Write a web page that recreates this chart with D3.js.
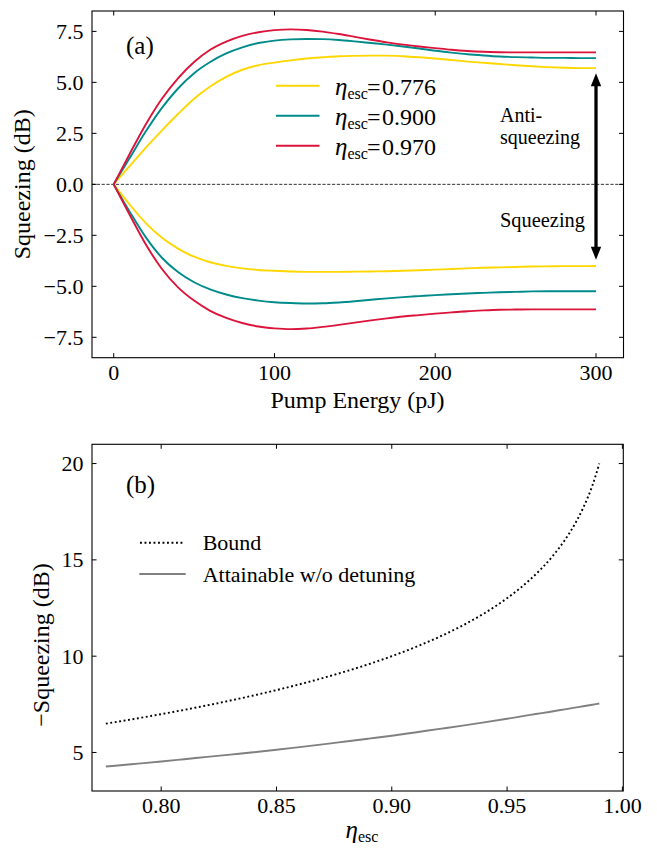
<!DOCTYPE html>
<html><head><meta charset="utf-8">
<script src="https://cdn.jsdelivr.net/npm/d3@7"></script>
<style>
body{margin:0;background:#fff;}
svg{display:block;}
text{font-family:"Liberation Serif","Times New Roman",serif;fill:#000;}
</style>
</head><body>
<svg id="chart" width="657" height="848"></svg>
<script>
// ---------- Panel (a) data ----------
const pumpEnergy = [0,10,20,30,40,50,60,70,80,90,100,110,120,130,140,150,160,170,180,190,200,210,220,230,240,250,260,270,280,290,300];
const antiSqz776 = [0,0.9,1.8,2.65,3.45,4.2,4.8,5.27,5.62,5.84,5.97,6.08,6.17,6.23,6.28,6.3,6.31,6.31,6.28,6.23,6.17,6.1,6.02,5.96,5.9,5.84,5.79,5.75,5.72,5.7,5.7];
const antiSqz900 = [0,1.3,2.6,3.75,4.7,5.45,6.0,6.42,6.72,6.93,7.05,7.11,7.13,7.12,7.08,7.01,6.93,6.85,6.76,6.66,6.55,6.46,6.38,6.32,6.27,6.24,6.22,6.2,6.2,6.19,6.19];
const antiSqz970 = [0,1.5,2.95,4.2,5.2,6.0,6.6,7.0,7.28,7.46,7.56,7.6,7.57,7.49,7.37,7.23,7.09,6.96,6.85,6.76,6.68,6.6,6.54,6.5,6.48,6.47,6.47,6.47,6.47,6.47,6.47];
const sqz776 = [0,-1.0,-1.9,-2.62,-3.15,-3.55,-3.82,-4.0,-4.12,-4.2,-4.24,-4.27,-4.29,-4.29,-4.29,-4.28,-4.27,-4.26,-4.24,-4.21,-4.18,-4.15,-4.12,-4.09,-4.07,-4.05,-4.03,-4.02,-4.01,-4.01,-4.0];
const sqz900 = [0,-1.35,-2.6,-3.6,-4.3,-4.8,-5.15,-5.4,-5.58,-5.7,-5.78,-5.82,-5.84,-5.83,-5.79,-5.73,-5.66,-5.59,-5.53,-5.48,-5.43,-5.39,-5.35,-5.32,-5.29,-5.27,-5.25,-5.24,-5.24,-5.24,-5.24];
const sqz970 = [0,-1.5,-2.95,-4.15,-5.05,-5.7,-6.2,-6.55,-6.8,-6.97,-7.06,-7.1,-7.07,-6.99,-6.89,-6.78,-6.67,-6.57,-6.48,-6.41,-6.34,-6.28,-6.22,-6.18,-6.15,-6.14,-6.13,-6.13,-6.13,-6.13,-6.13];
const seriesNamesA = ["0.776","0.900","0.970"];
const seriesColorsA = ["#FFD700","#008B8B","#DC143C"];
const xTicksA = [0,100,200,300];
const yTicksA = [-7.5,-5,-2.5,0,2.5,5,7.5];
const arrowA = [[300,5.45],[300,-3.7]];

// ---------- Panel (b) data ----------
const etaEsc = [0.776,0.78,0.79,0.80,0.81,0.82,0.83,0.84,0.85,0.86,0.87,0.88,0.89,0.90,0.91,0.92,0.93,0.94,0.95,0.955,0.96,0.965,0.97,0.975,0.98,0.983,0.985,0.987,0.99];
const boundDb = [6.498,6.576,6.778,6.990,7.212,7.447,7.696,7.959,8.239,8.539,8.861,9.208,9.586,10.0,10.458,10.969,11.549,12.218,13.010,13.468,13.979,14.559,15.229,16.021,16.990,17.696,18.239,18.861,20.0];
const attainDb = [4.27,4.31,4.42,4.53,4.65,4.77,4.89,5.01,5.14,5.28,5.42,5.57,5.72,5.87,6.04,6.21,6.38,6.56,6.75,6.85,6.95,7.04,7.14,7.24,7.34,7.40,7.44,7.48,7.54];
const xTicksB = [0.80,0.85,0.90,0.95,1.00];
const yTicksB = [5,10,15,20];

const svg = d3.select("#chart");
const TICK = 4.5;

function frame(g, x, y, xt, yt, xfmt, yfmt) {
  const [x0,x1] = x.range(), [y0,y1] = y.range();
  xt.forEach(v => {
    g.append("line").attr("x1",x(v)).attr("x2",x(v)).attr("y1",y0).attr("y2",y0-TICK).attr("stroke","#000").attr("stroke-width",1);
    g.append("line").attr("x1",x(v)).attr("x2",x(v)).attr("y1",y1).attr("y2",y1+TICK).attr("stroke","#000").attr("stroke-width",1);
    g.append("text").attr("x",x(v)).attr("y",y0+22.3).attr("text-anchor","middle").attr("font-size","22px").text(xfmt(v));
  });
  yt.forEach(v => {
    g.append("line").attr("x1",x0).attr("x2",x0+TICK).attr("y1",y(v)).attr("y2",y(v)).attr("stroke","#000").attr("stroke-width",1);
    g.append("line").attr("x1",x1).attr("x2",x1-TICK).attr("y1",y(v)).attr("y2",y(v)).attr("stroke","#000").attr("stroke-width",1);
    g.append("text").attr("x",x0-8.5).attr("y",y(v)).attr("dy","0.34em").attr("text-anchor","end").attr("font-size","22px").text(yfmt(v));
  });
  g.append("rect").attr("x",x0).attr("y",y1).attr("width",x1-x0).attr("height",y0-y1)
    .attr("fill","none").attr("stroke","#000").attr("stroke-width",1.1);
}

// ================= Panel (a) =================
const xA = d3.scaleLinear().domain([-13.5,317.1]).range([92,623.5]);
const yA = d3.scaleLinear().domain([-8.5,8.5]).range([357.7,11]);
const gA = svg.append("g");

gA.append("line").attr("x1",xA.range()[0]).attr("x2",xA.range()[1]).attr("y1",yA(0)).attr("y2",yA(0))
  .attr("stroke","#000").attr("stroke-width",0.8).attr("stroke-dasharray","3.2,1.6");

const lineA = d3.line().x((d,i)=>xA(pumpEnergy[i])).y(d=>yA(d)).curve(d3.curveMonotoneX);
const upper = [antiSqz776, antiSqz900, antiSqz970];
const lower = [sqz776, sqz900, sqz970];
[0,1,2].forEach(k => {
  gA.append("path").attr("d",lineA(upper[k])).attr("fill","none").attr("stroke",seriesColorsA[k]).attr("stroke-width",1.9);
  gA.append("path").attr("d",lineA(lower[k])).attr("fill","none").attr("stroke",seriesColorsA[k]).attr("stroke-width",1.9);
});

frame(gA, xA, yA, xTicksA, yTicksA, d3.format(".0f"), d3.format(".1f"));

// legend (a)
seriesNamesA.forEach((nm,k) => {
  const yy = 85.7 + k*30;
  gA.append("line").attr("x1",276).attr("x2",319.5).attr("y1",yy).attr("y2",yy).attr("stroke",seriesColorsA[k]).attr("stroke-width",1.9);
  const t = gA.append("text").attr("x",335).attr("y",yy+9.5).attr("font-size","24px");
  t.append("tspan").attr("font-style","italic").attr("font-size","25px").text("η");
  t.append("tspan").attr("font-size","16px").attr("dy",4).text("esc");
  t.append("tspan").attr("dy",-4).attr("x",367).text("=");
  t.append("tspan").attr("x",382).text(nm);
});

// arrow
const ax = xA(arrowA[0][0]), ayTop = yA(arrowA[0][1]), ayBot = yA(arrowA[1][1]);
const HL = 13, HW = 5.2;
gA.append("line").attr("x1",ax).attr("x2",ax).attr("y1",ayTop+HL-1).attr("y2",ayBot-HL+1).attr("stroke","#000").attr("stroke-width",3.3);
gA.append("path").attr("d",`M${ax},${ayTop} L${ax-HW},${ayTop+HL} L${ax+HW},${ayTop+HL} Z`).attr("fill","#000");
gA.append("path").attr("d",`M${ax},${ayBot} L${ax-HW},${ayBot-HL} L${ax+HW},${ayBot-HL} Z`).attr("fill","#000");

gA.append("text").attr("x",500).attr("y",121.5).attr("font-size","20px").text("Anti-");
gA.append("text").attr("x",500).attr("y",143.5).attr("font-size","20px").text("squeezing");
gA.append("text").attr("x",500).attr("y",226.5).attr("font-size","20.4px").text("Squeezing");

gA.append("text").attr("x",126).attr("y",53.5).attr("font-size","25px").text("(a)");
gA.append("text").attr("x",357.5).attr("y",408).attr("text-anchor","middle").attr("font-size","24px").text("Pump Energy (pJ)");
gA.append("text").attr("transform",`translate(30,${(yA.range()[0]+yA.range()[1])/2}) rotate(-90)`)
  .attr("text-anchor","middle").attr("font-size","24px").text("Squeezing (dB)");

// ================= Panel (b) =================
const xB = d3.scaleLinear().domain([0.77,1.0004]).range([92,623.3]);
const yB = d3.scaleLinear().domain([3,21]).range([791,444.3]);
const gB = svg.append("g");

const lineB = d3.line().x((d,i)=>xB(etaEsc[i])).y(d=>yB(d)).curve(d3.curveMonotoneX);
gB.append("path").attr("d",lineB(attainDb)).attr("fill","none").attr("stroke","#808080").attr("stroke-width",1.9);
gB.append("path").attr("d",lineB(boundDb)).attr("fill","none").attr("stroke","#000").attr("stroke-width",1.9).attr("stroke-dasharray","1.9,2.6");

frame(gB, xB, yB, xTicksB, yTicksB, d3.format(".2f"), d3.format("d"));

// legend (b)
gB.append("line").attr("x1",140).attr("x2",184.5).attr("y1",542.7).attr("y2",542.7).attr("stroke","#000").attr("stroke-width",1.9).attr("stroke-dasharray","1.9,2.6");
gB.append("line").attr("x1",139.3).attr("x2",185.7).attr("y1",574).attr("y2",574).attr("stroke","#808080").attr("stroke-width",1.9);
gB.append("text").attr("x",202.7).attr("y",550).attr("font-size","22px").text("Bound");
gB.append("text").attr("x",202.7).attr("y",581.7).attr("font-size","22px").text("Attainable w/o detuning");

gB.append("text").attr("x",126).attr("y",493.3).attr("font-size","25px").text("(b)");
const xl = gB.append("text").attr("x",362).attr("y",838).attr("text-anchor","middle").attr("font-size","24px");
xl.append("tspan").attr("font-style","italic").attr("font-size","25px").text("η");
xl.append("tspan").attr("font-size","16px").attr("dy",4).text("esc");
gB.append("text").attr("transform",`translate(49,645) rotate(-90)`)
  .attr("text-anchor","middle").attr("font-size","24px").text("−Squeezing (dB)");
</script>
</body></html>
